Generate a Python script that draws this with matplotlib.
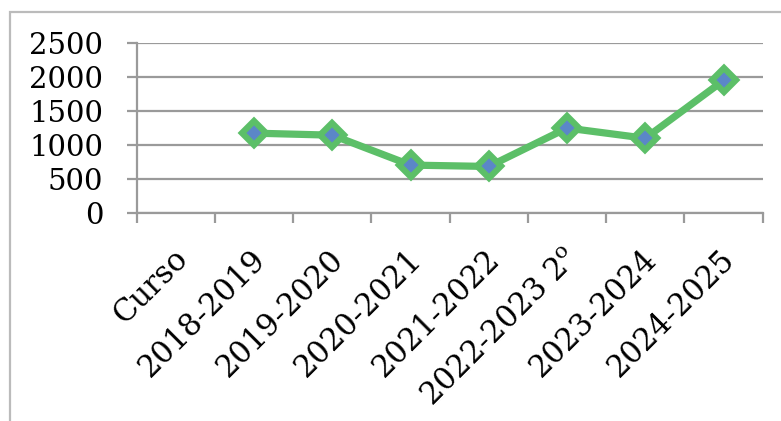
import matplotlib.pyplot as plt
from matplotlib.patches import Rectangle
from matplotlib.transforms import ScaledTranslation
import numpy as np

cursos = ["Curso", "2018-2019", "2019-2020", "2020-2021", "2021-2022",
          "2022-2023 2$^{\\rm o}$", "2023-2024", "2024-2025"]
alumnos = [np.nan, 1170, 1140, 700, 680, 1245, 1095, 1945]
yticks = [0, 500, 1000, 1500, 2000, 2500]

plt.rcParams['font.family'] = ['DejaVu Serif']
plt.rcParams['mathtext.fontset'] = 'dejavuserif'

fig = plt.figure(figsize=(7.81, 4.21), dpi=100)
ax = fig.add_axes([136.7 / 781, 1 - 212.7 / 421, 626 / 781, 170 / 421])

# outer chart frame (only left and top visible in the picture)
fig.patches.append(Rectangle((10 / 781, -0.1), 1.2, 1 - 12 / 421 + 0.1,
                             transform=fig.transFigure, fill=False,
                             edgecolor='#bbbbbb', linewidth=1.6))

x = np.arange(len(cursos)) + 0.5
ax.plot(x, alumnos, color='#5cbf68', linewidth=5.2, marker='D',
        markersize=12, markerfacecolor='#5b87c8', markeredgecolor='#5cbf68',
        markeredgewidth=4.5, zorder=3)

ax.set_xlim(0, len(cursos))
ax.set_ylim(0, 2500)
ax.set_yticks(yticks)
ax.set_yticklabels([str(v) for v in yticks], fontsize=21)
ax.grid(axis='y', color='#9a9a9a', linewidth=1.6)
ax.set_axisbelow(True)

# tick marks on category boundaries, labels at the centres
ax.set_xticks(np.arange(len(cursos) + 1))
ax.set_xticklabels([])
ax.set_xticks(x, minor=True)
ax.set_xticklabels(cursos, minor=True, fontsize=22, rotation=45,
                   ha='right', va='center', rotation_mode='anchor')
ax.tick_params(axis='x', which='major', length=7, width=1.6, color='#9a9a9a')
ax.tick_params(axis='x', which='minor', length=0, pad=30)
ax.tick_params(axis='y', length=7, width=1.6, color='#9a9a9a', pad=17)
for lab in ax.get_xticklabels(minor=True):
    lab.set_transform(lab.get_transform() + ScaledTranslation(0.07, 0, fig.dpi_scale_trans))

for s in ['top', 'right']:
    ax.spines[s].set_visible(False)
for s in ['left', 'bottom']:
    ax.spines[s].set_color('#9a9a9a')
    ax.spines[s].set_linewidth(1.6)

fig.savefig('out.png', dpi=100)
